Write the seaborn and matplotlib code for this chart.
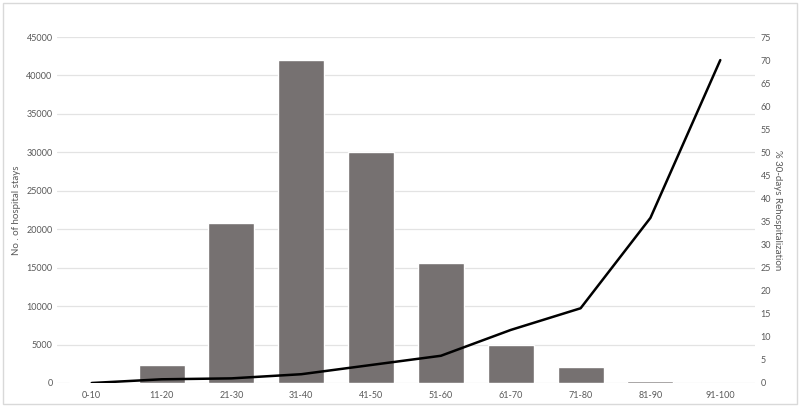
import matplotlib
matplotlib.use('Agg')
import matplotlib.pyplot as plt
import seaborn as sns
import numpy as np
import pandas as pd
from matplotlib.patches import Rectangle

# Data
age_groups = ['0-10', '11-20', '21-30', '31-40', '41-50', '51-60',
              '61-70', '71-80', '81-90', '91-100']
hospital_stays = [100, 2400, 20800, 42000, 30100, 15600, 5000, 2100, 250, 60]
rehosp_pct = [0.0, 0.8, 1.0, 1.9, 3.9, 5.9, 11.5, 16.2, 35.8, 70.0]

sns.set_theme(style='white')
plt.rcParams['font.family'] = ['Lato', 'DejaVu Sans']

text_grey = '#595959'
grid_grey = '#e3e3e3'
bar_grey = '#767171'

df = pd.DataFrame({'age': age_groups, 'stays': hospital_stays, 'pct': rehosp_pct})

fig = plt.figure(figsize=(8, 4.07), dpi=100)
ax = fig.add_axes([0.071, 0.059, 0.873, 0.850])

sns.barplot(data=df, x='age', y='stays', color=bar_grey, saturation=1,
            width=0.66, ax=ax, zorder=2)
ax.set_xlim(-0.5, len(age_groups) - 0.5)
ax.set_ylim(0, 45000)
ax.set_yticks(np.arange(0, 45001, 5000))
ax.grid(axis='y', color=grid_grey, linewidth=0.9, zorder=0)
ax.set_axisbelow(True)
ax.set_xlabel('')
ax.set_ylabel('No . of hospital stays', color=text_grey, fontsize=7, labelpad=4)
ax.tick_params(axis='y', length=0, labelsize=6.5, colors=text_grey, pad=3)
ax.tick_params(axis='x', length=0, labelsize=6.5, colors=text_grey, pad=6)
for s in ax.spines.values():
    s.set_visible(False)

ax2 = ax.twinx()
sns.lineplot(x=np.arange(len(age_groups)), y=df['pct'], color='black',
             linewidth=1.8, ax=ax2, zorder=3)
ax2.set_ylim(0, 75)
ax2.set_yticks(np.arange(0, 76, 5))
ax2.set_ylabel('% 30-days Rehospitalization', color=text_grey, fontsize=7,
               rotation=-90, labelpad=8)
ax2.tick_params(axis='y', length=0, labelsize=6.5, colors=text_grey, pad=4)
for s in ax2.spines.values():
    s.set_visible(False)
ax2.grid(False)

# light frame round the whole chart
fig.patches.append(Rectangle((0.004, 0.008), 0.992, 0.984, transform=fig.transFigure,
                             fill=False, edgecolor='#d9d9d9', linewidth=1))

fig.savefig('out.png', dpi=100)
